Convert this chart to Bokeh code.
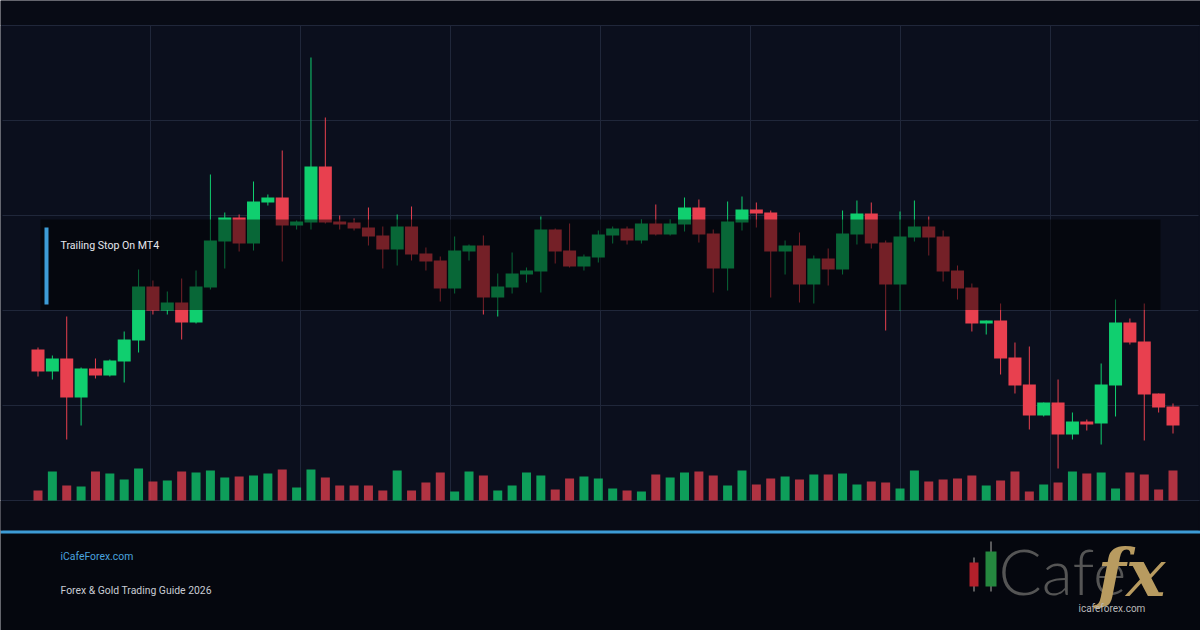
import numpy as np
from bokeh.plotting import figure
from bokeh.models import Range1d, ColumnDataSource, FixedTicker, Grid, BoxAnnotation
from bokeh.core.properties import value
from bokeh.embed import file_html
from bokeh.resources import INLINE

# ---------------- data ----------------
opens = [2075.5, 2064.5, 2071, 2051.5, 2066, 2062.5, 2069.5, 2080, 2107, 2095,
         2099, 2089, 2106.5, 2129.5, 2141.5, 2128.5, 2149, 2151.5, 2137.5, 2139,
         2167, 2139.5, 2139, 2136.5, 2132.5, 2125.5, 2137, 2123.5, 2120, 2106,
         2124.5, 2127.5, 2101.5, 2106.5, 2113, 2114.5, 2135.5, 2125, 2117, 2121.5,
         2132.5, 2136, 2130, 2138.5, 2133, 2138, 2146.5, 2133.5, 2116, 2139,
         2145.5, 2144, 2124.5, 2127.5, 2108, 2121, 2115.5, 2133, 2143.5, 2129,
         2108, 2131.5, 2137, 2132, 2115, 2106.5, 2088.5, 2090, 2071.5, 2058,
         2042.5, 2049, 2033, 2039.5, 2038.5, 2057.5, 2089, 2079.5, 2053.5, 2047]
highs = [2076.5, 2072.5, 2092, 2066.5, 2071, 2070.5, 2084.5, 2115.5, 2110, 2104.5,
         2111, 2115, 2163, 2144, 2143, 2159.5, 2153, 2175, 2140, 2221.5,
         2191.5, 2142.5, 2141, 2146.5, 2137, 2143, 2147, 2126.5, 2122, 2132,
         2128, 2132.5, 2113.5, 2124, 2116.5, 2142, 2136, 2138.5, 2123, 2135,
         2137, 2137, 2140.5, 2148, 2140.5, 2151.5, 2150.5, 2135.5, 2149.5, 2152,
         2149, 2145, 2130, 2134, 2122.5, 2126, 2145, 2150, 2149, 2130,
         2144.5, 2150, 2142, 2135, 2117.5, 2108.5, 2090, 2098.5, 2079, 2077,
         2049, 2060.5, 2044, 2040.5, 2068.5, 2100.5, 2091, 2098.5, 2053.5, 2048.5]
lows = [2062, 2060.5, 2030.5, 2037.5, 2061, 2062, 2059, 2074, 2093, 2093,
        2080.5, 2088.5, 2105.5, 2116, 2124.5, 2125, 2147.5, 2119.5, 2135.5, 2135.5,
        2138.5, 2135.5, 2135, 2127.5, 2116, 2117.5, 2120, 2115, 2099.5, 2103.5,
        2120, 2093, 2092, 2103.5, 2109, 2104, 2118.5, 2116.5, 2115, 2119,
        2128.5, 2128, 2128.5, 2132.5, 2132.5, 2134.5, 2129, 2104, 2105, 2135,
        2136.5, 2101.5, 2113, 2099, 2098.5, 2107.5, 2113, 2128, 2126, 2085,
        2095, 2129.5, 2122.5, 2109.5, 2100.5, 2084.5, 2083, 2063, 2053.5, 2035.5,
        2042, 2016, 2030.5, 2035, 2028, 2042, 2078, 2030, 2044, 2033.5]
closes = [2064.5, 2071, 2051.5, 2066, 2062.5, 2070, 2080.5, 2107, 2095, 2099,
          2089, 2107, 2130, 2141.5, 2128.5, 2149.5, 2151.5, 2137.5, 2139.5, 2167,
          2139, 2138, 2136, 2132, 2125.5, 2137, 2123, 2119.5, 2106, 2125,
          2127.5, 2101.5, 2107, 2113.5, 2115, 2135.5, 2124.5, 2117, 2122, 2133,
          2136, 2130, 2138.5, 2133, 2138.5, 2146.5, 2133, 2116, 2139.5, 2145.5,
          2143.5, 2124.5, 2127.5, 2108, 2121, 2115.5, 2133.5, 2143.5, 2128.5, 2108,
          2132, 2137, 2131.5, 2114.5, 2106, 2088.5, 2090, 2071, 2057.5, 2042.5,
          2049, 2033, 2039.5, 2038, 2058, 2089, 2079, 2053, 2046.5, 2037.5]
volumes = [1000, 2900, 1500, 1400, 2900, 2700, 2100, 3200, 1900, 2000,
           2900, 2800, 3000, 2300, 2400, 2500, 2700, 3100, 1300, 3100,
           2300, 1500, 1500, 1500, 1000, 3000, 1000, 1800, 2800, 900,
           2900, 2500, 1000, 1500, 2800, 2500, 1100, 2200, 2400, 2200,
           1200, 1000, 900, 2600, 2300, 2800, 2900, 2500, 1500, 3000,
           1600, 2200, 2400, 2100, 2600, 2600, 2700, 1600, 1900, 1800,
           1200, 3000, 1900, 2100, 2200, 2500, 1500, 2000, 2900, 900,
           1600, 1800, 2900, 2700, 2800, 1200, 2800, 2600, 1100, 3000]

TITLE = "Trailing Stop On MT4"
SITE = "iCafeForex.com"
SUBTITLE = "Forex & Gold Trading Guide 2026"
LOGO_WORD = "Cafe"
LOGO_FX = "fx"
LOGO_SITE = "icafeforex.com"

# ---------------- layout / styles ----------------
W, H = 1200, 630
FIRST_PX, LAST_PX = 37.5, 1172.5
n = len(opens)
SP = (LAST_PX - FIRST_PX) / (n - 1)          # px per candle
x_start = -FIRST_PX / SP
x_end = (W - FIRST_PX) / SP

BASE_PRICE, BASE_PX, PX_PER_UNIT = 2000.0, 500.0, 2.0
y_start = BASE_PRICE - (H - BASE_PX) / PX_PER_UNIT
y_end = BASE_PRICE + BASE_PX / PX_PER_UNIT
VOL_PER_PX = 100.0

UP, DOWN = "#10cf6f", "#e8404f"
BG_PLOT, BG_OUT, BG_FOOT = "#0b0f1d", "#080b15", "#05070e"
GRID = "#20273a"
BLUE = "#3d9bd5"

p = figure(width=W, height=H, output_backend="svg", toolbar_location=None,
           x_range=Range1d(x_start, x_end), y_range=Range1d(y_start, y_end),
           x_axis_location=None, y_axis_location=None, min_border=0,
           background_fill_color=BG_PLOT, border_fill_color=BG_PLOT,
           outline_line_color=None)
p.extra_x_ranges = {"px": Range1d(0, W)}
p.extra_y_ranges = {"py": Range1d(H, 0),
                    "vol": Range1d(-(H - BASE_PX) * VOL_PER_PX, BASE_PX * VOL_PER_PX)}
p.grid.visible = False

def price_at(px):
    return BASE_PRICE + (BASE_PX - px) / PX_PER_UNIT

def idx_at(px):
    return (px - FIRST_PX) / SP

hgrid = Grid(dimension=1, ticker=FixedTicker(ticks=[price_at(v) for v in (25, 120, 215, 310, 405, 500)]),
             grid_line_color=GRID, grid_line_width=1)
vgrid = Grid(dimension=0, ticker=FixedTicker(ticks=[idx_at(v) for v in (150, 300, 450, 600, 750, 900, 1050)]),
             grid_line_color=GRID, grid_line_width=1)
if "cross_bounds" in Grid.properties():
    hgrid.cross_bounds = (x_start + 0.05, x_end - 0.05)
    vgrid.cross_bounds = (price_at(500), price_at(25))
p.add_layout(hgrid)
p.add_layout(vgrid)

# outer bands
p.quad(left=0, right=W, top=0, bottom=24.5, fill_color=BG_OUT, line_color=None,
       x_range_name="px", y_range_name="py")
p.quad(left=0, right=W, top=500.5, bottom=530, fill_color=BG_OUT, line_color=None,
       x_range_name="px", y_range_name="py")
p.quad(left=0, right=W, top=533, bottom=H, fill_color=BG_FOOT, line_color=None,
       x_range_name="px", y_range_name="py")
p.quad(left=0, right=W, top=530, bottom=533, fill_color=BLUE, line_color=None,
       x_range_name="px", y_range_name="py")

# ---------------- candles ----------------
o = np.array(opens); c = np.array(closes)
colors = [UP if cc >= oo else DOWN for oo, cc in zip(opens, closes)]
src = ColumnDataSource(dict(
    x=np.arange(n), open=o, close=c, high=highs, low=lows,
    top=np.maximum(o, c), bottom=np.minimum(o, c), color=colors, vol=volumes))

p.segment(x0="x", x1="x", y0="low", y1="high", line_color="color", line_width=1, source=src)
p.vbar(x="x", top="top", bottom="bottom", width=13 / SP, fill_color="color",
       line_color=None, source=src)
p.vbar(x="x", top="vol", bottom=0, width=9 / SP, fill_color="color", fill_alpha=0.75,
       line_color=None, source=src, y_range_name="vol")

# ---------------- title overlay ----------------
p.quad(left=40, right=1160, top=219, bottom=309.5, fill_color="black", fill_alpha=0.5,
       line_color=None, x_range_name="px", y_range_name="py")
p.quad(left=44, right=48, top=227, bottom=304, fill_color=BLUE, line_color=None,
       x_range_name="px", y_range_name="py")
p.text(x=[60], y=[245], text=[TITLE], text_font=value("Roboto"), text_font_size="10.6px",
       text_color="#e6e8ee", text_baseline="middle", text_align="left",
       x_range_name="px", y_range_name="py")

# ---------------- footer ----------------
p.text(x=[60], y=[556], text=[SITE], text_font=value("Roboto"), text_font_size="10.4px",
       text_color="#4aa3df", text_baseline="middle", x_range_name="px", y_range_name="py")
p.text(x=[60], y=[590], text=[SUBTITLE], text_font=value("Roboto"), text_font_size="10.4px",
       text_color="#c9ccd4", text_baseline="middle", x_range_name="px", y_range_name="py")

# logo
p.segment(x0=[973.5, 990.5], x1=[973.5, 990.5], y0=[557, 541], y1=[591, 591],
          line_color="#777777", line_width=1.5, x_range_name="px", y_range_name="py")
p.quad(left=[969, 985], right=[978, 996], top=[562, 551], bottom=[586, 586],
       fill_color=["#b3202b", "#25883f"], line_color=None,
       x_range_name="px", y_range_name="py")
p.text(x=[998], y=[570], text=[LOGO_WORD], text_font=value("Lato Light"), text_font_size="64px",
       text_color="#555555", text_baseline="middle", x_range_name="px", y_range_name="py")
p.text(x=[1097], y=[572], text=[LOGO_FX], text_font=value("DejaVu Serif"), text_font_size="66px",
       text_font_style="bold italic", text_color="#b89b60", text_baseline="middle",
       x_range_name="px", y_range_name="py")
p.text(x=[1078], y=[608], text=[LOGO_SITE], text_font=value("Roboto"), text_font_size="10px",
       text_color="#b8b8b8", text_baseline="middle", x_range_name="px", y_range_name="py")

# edge covers (hide a stray edge artefact at the canvas sides)
for lft, rgt in ((0, 2), (W - 2, W)):
    p.add_layout(BoxAnnotation(left=lft, right=rgt, top=25.6, bottom=499.4,
                               fill_color=BG_PLOT, fill_alpha=1, line_color=None,
                               x_range_name="px", y_range_name="py", level="overlay"))
    p.add_layout(BoxAnnotation(left=lft, right=rgt, top=500.6, bottom=529.8,
                               fill_color=BG_OUT, fill_alpha=1, line_color=None,
                               x_range_name="px", y_range_name="py", level="overlay"))

open("out.html", "w").write(file_html(p, INLINE))
